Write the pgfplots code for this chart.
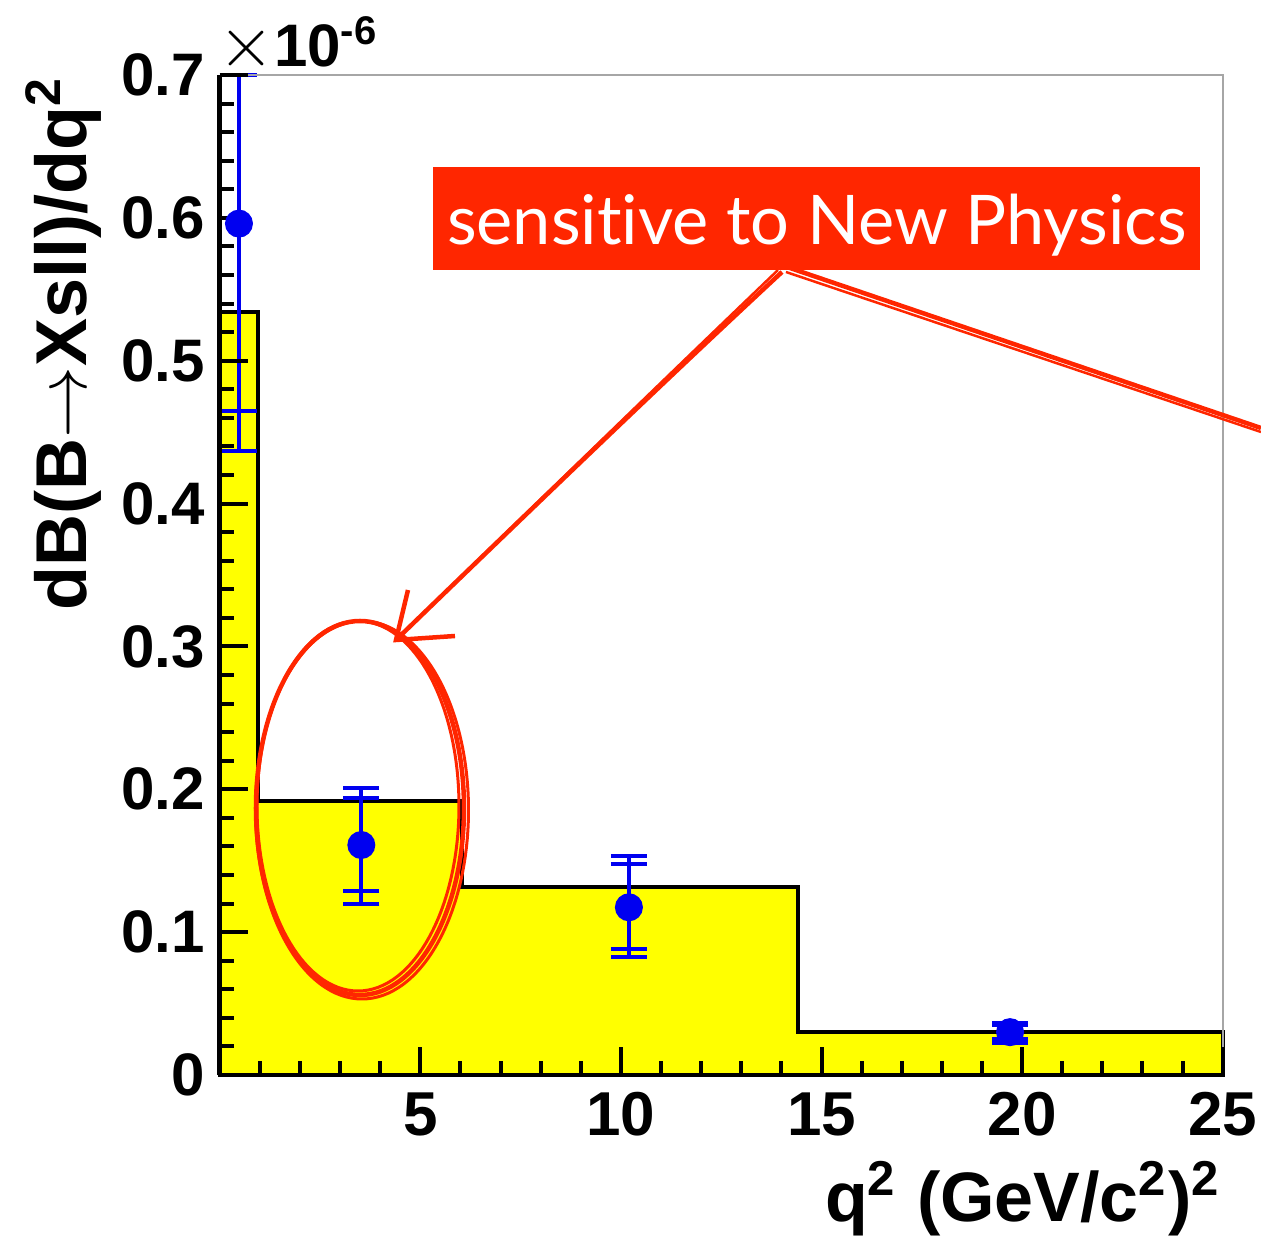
\documentclass[border=0pt]{standalone}
\usepackage{fontspec}
\setmainfont{Liberation Sans}
\newfontfamily\annfont[Ligatures=NoCommon]{Lato}
\usepackage{pgfplots}
\pgfplotsset{compat=1.18}
\definecolor{annred}{RGB}{255,38,0}
\definecolor{hyellow}{RGB}{255,255,0}
\definecolor{pblue}{RGB}{0,0,240}

\pgfplotstableread{
x     y      tp      tm
0.48  0.596  0.104   0.1595
3.53  0.161  0.0402  0.0415
10.2  0.1174 0.0361  0.0348
19.7  0.030  0.0067  0.0073
}\totaltab
\pgfplotstableread{
x     y      tp      tm
0.48  0.596  0.104   0.131
3.53  0.161  0.033   0.0325
10.2  0.1174 0.0306  0.029
19.7  0.030  0.005   0.005
}\stattab

\begin{document}
\begin{tikzpicture}
\useasboundingbox (0,0) rectangle (252.2pt,249.8pt);
\begin{axis}[
  at={(43.94pt,34.8pt)}, anchor=south west,
  scale only axis, width=200.6pt, height=200pt,
  xmin=0, xmax=25, ymin=0, ymax=0.7,
  clip=false, axis on top,
  axis x line=bottom, axis y line=left,
  axis line style={-, black, line width=0.9pt},
  xtick={0,5,10,15,20,25}, xticklabels={,5,10,15,20,25},
  ytick={0,0.1,0.2,0.3,0.4,0.5,0.6,0.7},
  yticklabels={0,0.1,0.2,0.3,0.4,0.5,0.6,0.7},
  minor x tick num=4, minor y tick num=4,
  tick align=inside,
  major tick length=5.6pt, minor tick length=2.8pt,
  every tick/.style={black, line width=0.8pt},
  ticklabel style={font=\fontsize{12.4}{14}\selectfont\bfseries},
  yticklabel style={xshift=0.6pt, font=\fontsize{12}{14}\selectfont\bfseries},
  /pgf/number format/assume math mode=true,
  xlabel={q\textsuperscript{2} (GeV/c\textsuperscript{2})\textsuperscript{2}},
  xlabel style={at={(axis description cs:1,-0.085)}, anchor=north east, inner sep=0pt,
    font=\fontsize{14}{16}\selectfont\bfseries},
  ylabel={dB(B$\rightarrow$Xsll)/dq\textsuperscript{2}},
  ylabel style={at={(axis description cs:-0.117,1)}, anchor=south east, inner sep=0pt,
    font=\fontsize{14.4}{16}\selectfont\bfseries},
]
\addplot[const plot, fill=hyellow, draw=black, line width=0.8pt]
  coordinates {(0,0.534) (0.96,0.192) (6.03,0.1316) (14.42,0.0299) (25,0.0299)} \closedcycle;

\addplot[draw=none, mark=none, error bars/.cd, y dir=both, y explicit,
  error bar style={line width=0.8pt, pblue},
  error mark options={rotate=90, mark size=3.6pt, line width=0.8pt, pblue}]
  table[x=x, y=y, y error plus=tp, y error minus=tm] {\stattab};
\addplot[only marks, mark=*, mark size=2.6pt, pblue, mark options={fill=pblue, draw=pblue},
  error bars/.cd, y dir=both, y explicit,
  error bar style={line width=0.8pt, pblue},
  error mark options={rotate=90, mark size=3.6pt, line width=0.8pt, pblue}]
  table[x=x, y=y, y error plus=tp, y error minus=tm] {\totaltab};

\draw[gray!70, line width=0.4pt] (rel axis cs:0,1) -- (rel axis cs:1,1) -- (rel axis cs:1,0);
\node[anchor=south west, inner sep=0pt, font=\fontsize{12}{13}\selectfont\bfseries]
  at ([xshift=-0.5pt, yshift=0.3pt]rel axis cs:0,1) {\fontsize{15}{15}\selectfont$\times$\fontsize{12}{13}\selectfont10\textsuperscript{-6}};
\end{axis}

\begin{scope}[x=0.2pt, y=-0.2pt, yshift=249.8pt]
  \fill[annred] (433,167) rectangle (1200,270);
  \node[text=white, font=\annfont\fontsize{13.7}{16}\selectfont] at (817,225) {sensitive to New Physics};
  \draw[annred, line width=0.9pt] (360,808) ellipse [x radius=20.8pt, y radius=37.4pt];
  \draw[annred, line width=0.6pt] (358,806) ellipse [x radius=20.2pt, y radius=37.0pt];
  \draw[annred, line width=0.6pt] (362,810) ellipse [x radius=21.3pt, y radius=37.8pt];
  \draw[annred, line width=0.9pt] (782,272) .. controls (660,385) and (520,520) .. (398,638);
  \draw[annred, line width=0.5pt] (778,270) .. controls (656,387) and (517,522) .. (396,640);
  \draw[annred, line width=0.9pt] (408,590) -- (396,640) -- (455,636);
  \draw[annred, line width=0.9pt] (790,268) -- (1261,428);
  \draw[annred, line width=0.5pt] (786,272) -- (1261,432);
\end{scope}
\end{tikzpicture}
\end{document}
